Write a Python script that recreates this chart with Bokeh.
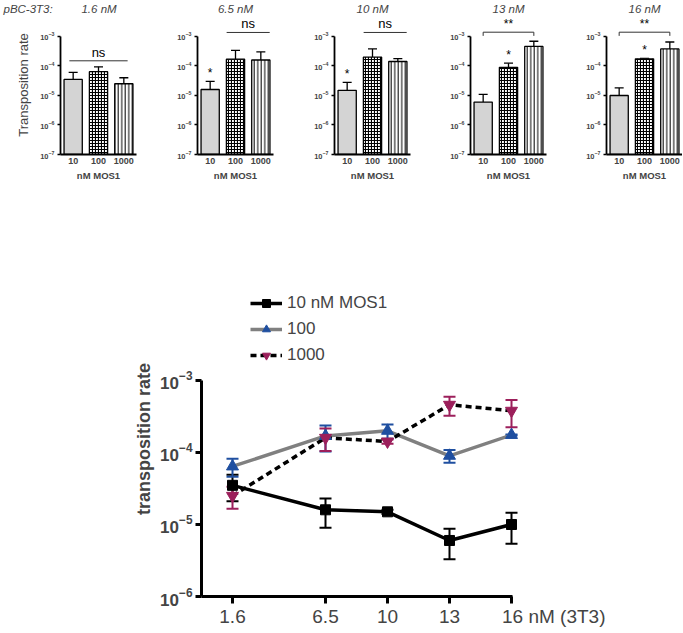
from bokeh.plotting import figure
from bokeh.models import (FactorRange, Range1d, Legend, LegendItem,
                          ColumnDataSource, Whisker, TeeHead, CustomJSTickFormatter)
from bokeh.layouts import column, row
from bokeh.embed import file_html
from bokeh.resources import INLINE
from bokeh.core.properties import value

FONT = "Liberation Sans"
NBSP = "\u00a0"

# ---------------- data ----------------
conc_3t3 = ["1.6", "6.5", "10", "13", "16"]
panel_titles = ["1.6 nM", "6.5 nM", "10 nM", "13 nM", "16 nM"]
row_label = "pBC-3T3:"
mos1_doses = ["10", "100", "1000"]
series_labels = ["10 nM MOS1", "100", "1000"]
x_unit_label = "nM (3T3)"

# mean transposition rate per 3T3 concentration, for each MOS1 dose
mean_10 = [3.5e-5, 1.6e-5, 1.5e-5, 6.0e-6, 1.0e-5]
mean_100 = [6.4e-5, 1.7e-4, 2.0e-4, 9.0e-5, 1.75e-4]
mean_1000 = [2.5e-5, 1.6e-4, 1.42e-4, 4.6e-4, 3.8e-4]

# error bars of the lower chart
sem_10 = [1.4e-5, 7.0e-6, 1.0e-6, 2.7e-6, 4.6e-6]
sem_100 = [1.8e-5, 6.7e-5, 4.5e-5, 1.8e-5, 3.0e-6]
sem_1000 = [8.5e-6, 5.5e-5, 1.0e-5, 1.35e-4, 1.55e-4]

# (upper) error bars of the bar panels
sd_10 = [2.6e-5, 1.4e-5, 1.3e-5, 5.0e-6, 8.0e-6]
sd_100 = [3.0e-5, 1.7e-4, 1.8e-4, 3.5e-5, 5.0e-6]
sd_1000 = [1.5e-5, 1.4e-4, 3.5e-5, 2.3e-4, 2.7e-4]

means = [mean_10, mean_100, mean_1000]
sems = [sem_10, sem_100, sem_1000]
sds = [sd_10, sd_100, sd_1000]

# ---------------- top bar panels ----------------
bar_styles = [
    dict(fill_color="#d4d4d4"),
    dict(fill_color="white", hatch_pattern="cross", hatch_scale=3, hatch_weight=1.2,
         hatch_color="black"),
    dict(fill_color="white", hatch_pattern="vertical_line", hatch_scale=3.5,
         hatch_weight=1, hatch_color="black"),
]

lefts = [60, 40, 40, 40, 40]
rights = [21, 21, 20, 20, 0]
TOP_END = 5.15e-3


def txt(p, x, y, s, size, **kw):
    p.text(x=x, y=y, text=[s] * len(x), text_align="center", text_baseline="bottom",
           text_font=value(FONT), text_font_size=size, text_color="black", **kw)


tops = []
for i in range(5):
    p = figure(x_range=FactorRange(*mos1_doses), y_axis_type="log",
               y_range=Range1d(1e-7, TOP_END),
               frame_width=76, frame_height=139,
               min_border_left=lefts[i], min_border_right=rights[i],
               min_border_top=14, min_border_bottom=28,
               output_backend="svg", toolbar_location=None)
    if i == 0:
        # row label and first panel title share the title line
        p.title.text = row_label + NBSP * 9 + panel_titles[i]
        p.title.align = "left"
        p.title.offset = -57
    else:
        p.title.text = panel_titles[i]
        p.title.align = "center"
    p.title.text_font = FONT
    p.title.text_font_style = "italic"
    p.title.text_font_size = "11.5px"
    p.title.standoff = 1
    p.grid.visible = False
    p.outline_line_color = None

    m = [means[j][i] for j in range(3)]
    e = [sds[j][i] for j in range(3)]
    for j in range(3):
        p.vbar(x=[mos1_doses[j]], top=[m[j]], bottom=1e-7, width=0.72,
               line_color="black", line_width=1.3, **bar_styles[j])
    caps = [a + b for a, b in zip(m, e)]
    src = ColumnDataSource(dict(dose=mos1_doses, lower=m, upper=caps))
    p.add_layout(Whisker(base="dose", lower="lower", upper="upper", source=src,
                         dimension="height", line_color="black", line_width=1.3,
                         upper_head=TeeHead(size=9, line_width=1.3, line_color="black"),
                         lower_head=None))

    if i == 0:
        p.segment(x0=[("10", -0.15)], y0=[1.5e-4], x1=[("1000", 0.15)], y1=[1.5e-4],
                  line_color="#333333", line_width=1)
        txt(p, ["100"], [1.5e-4], "ns", "13px", y_offset=-1)
    elif i in (1, 2):
        p.segment(x0=[("100", -0.35)], y0=[1.37e-3], x1=[("1000", 0.35)], y1=[1.37e-3],
                  line_color="#333333", line_width=1)
        txt(p, [("1000", -0.5)], [1.37e-3], "ns", "13px", y_offset=-1)
        txt(p, ["10"], [caps[0]], "*", "12px", y_offset=-1)
    else:
        p.multi_line(xs=[["10", "10", "1000", "1000"]],
                     ys=[[1.05e-3, 1.4e-3, 1.4e-3, 1.05e-3]],
                     line_color="#333333", line_width=1)
        txt(p, ["100"], [1.4e-3], "**", "12px", y_offset=-1)
        txt(p, ["100"], [caps[1]], "*", "12px", y_offset=-1)

    xa = p.xaxis[0]
    xa.axis_line_width = 1.8
    xa.major_tick_out = 0
    xa.major_tick_in = 0
    xa.major_tick_line_color = None
    xa.minor_tick_line_color = None
    xa.major_label_text_font = FONT
    xa.major_label_text_font_style = "bold"
    xa.major_label_text_font_size = "9px"
    xa.major_label_standoff = 3
    xa.axis_label = "nM MOS1"
    xa.axis_label_text_font = FONT
    xa.axis_label_text_font_style = "bold"
    xa.axis_label_text_font_size = "9.5px"
    xa.axis_label_standoff = 3

    ya = p.yaxis[0]
    ya.bounds = (1e-7, 1e-3)
    ya.axis_line_width = 1.8
    ya.major_tick_out = 3
    ya.major_tick_in = 0
    ya.major_tick_line_width = 1.3
    ya.minor_tick_line_color = None
    ya.major_label_text_font = FONT
    ya.major_label_text_font_style = "bold"
    ya.major_label_text_font_size = "7.5px"
    ya.major_label_standoff = 2
    if i == 0:
        ya.axis_label = "Transposition rate"
        ya.axis_label_text_font = FONT
        ya.axis_label_text_font_style = "normal"
        ya.axis_label_text_font_size = "13px"
        ya.axis_label_standoff = 6
    tops.append(p)

# ---------------- bottom line chart ----------------
# the axis has a break between the first and the second concentration
x_factors = [("", conc_3t3[0])] + [(" ", c) for c in conc_3t3[1:]]
pb = figure(x_range=FactorRange(*x_factors, group_padding=0.5), y_axis_type="log",
            y_range=Range1d(1e-6, 2.37e-2),
            frame_width=341, frame_height=315,
            min_border_left=201, min_border_right=88, min_border_top=98, min_border_bottom=31,
            output_backend="svg", toolbar_location=None)
pb.grid.visible = False
pb.outline_line_color = None

line_styles = [dict(line_color="black"), dict(line_color="#808080"),
               dict(line_color="black", line_dash="6 4")]
mark_styles = [dict(marker="square", size=10, color="black"),
               dict(marker="triangle", size=12, color="#1f4fa0"),
               dict(marker="inverted_triangle", size=12, color="#9c1f5b")]
err_colors = ["black", "#1f4fa0", "#9c1f5b"]

srcs = []
for j in range(3):
    srcs.append(ColumnDataSource(dict(
        x=x_factors, y=means[j],
        lower=[a - b for a, b in zip(means[j], sems[j])],
        upper=[a + b for a, b in zip(means[j], sems[j])])))

lines = [pb.line(x="x", y="y", source=srcs[j], line_width=3.5, **line_styles[j]) for j in range(3)]
for j in range(3):
    pb.add_layout(Whisker(base="x", lower="lower", upper="upper", source=srcs[j],
                          dimension="height", line_color=err_colors[j], line_width=2,
                          upper_head=TeeHead(size=12, line_width=2, line_color=err_colors[j]),
                          lower_head=TeeHead(size=12, line_width=2, line_color=err_colors[j])))
marks = [pb.scatter(x="x", y="y", source=srcs[j], **mark_styles[j]) for j in range(3)]

legend = Legend(items=[LegendItem(label=series_labels[j], renderers=[lines[j], marks[j]]) for j in range(3)],
                location=(49, 231), border_line_color=None, background_fill_alpha=0,
                label_text_font=FONT, label_text_font_size="17px",
                glyph_width=32, glyph_height=20, label_height=20, spacing=6,
                padding=0, margin=0, label_standoff=5)
pb.add_layout(legend)

xa = pb.xaxis[0]
xa.bounds = (0, 5.01)
xa.axis_line_width = 3
xa.major_tick_line_width = 3
xa.major_tick_out = 7
xa.major_tick_in = 0
xa.major_label_text_font = FONT
xa.major_label_text_font_size = "19px"
xa.major_label_standoff = 2
# the last tick carries the unit; non-breaking padding keeps "16" centred on its tick
xa.formatter = CustomJSTickFormatter(
    args=dict(last=conc_3t3[-1], unit=x_unit_label, pad=NBSP * 16),
    code="return (tick == last) ? pad + tick + ' ' + unit : tick;")
xa.group_text_font_size = "1px"
xa.separator_line_color = None

ya = pb.yaxis[0]
ya.bounds = (1e-6, 1e-3)
ya.axis_line_width = 3
ya.major_tick_out = 6
ya.major_tick_in = 0
ya.major_tick_line_width = 3
ya.minor_tick_line_color = None
ya.major_label_text_font = FONT
ya.major_label_text_font_style = "bold"
ya.major_label_text_font_size = "17px"
ya.major_label_standoff = 3
ya.axis_label = "transposition rate"
ya.axis_label_text_font = FONT
ya.axis_label_text_font_style = "bold"
ya.axis_label_text_font_size = "18px"
ya.axis_label_standoff = 3

layout = column(row(*tops), pb)
open("out.html", "w").write(file_html(layout, INLINE))
